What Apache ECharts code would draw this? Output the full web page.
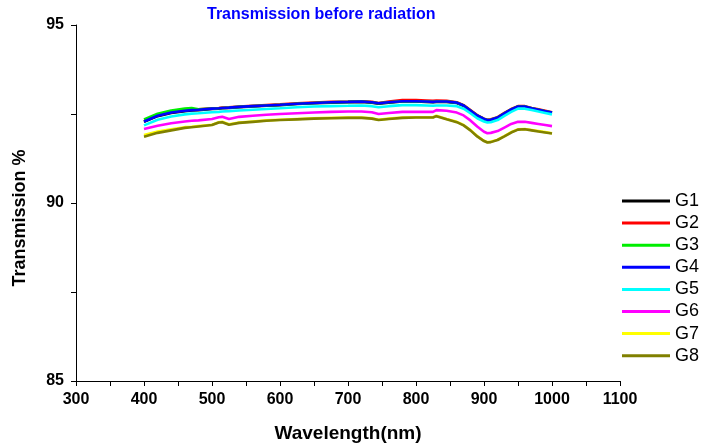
<!DOCTYPE html>
<html>
<head>
<meta charset="utf-8">
<script src="https://cdn.jsdelivr.net/npm/echarts@6/dist/echarts.min.js"></script>
<style>
  html, body { margin: 0; padding: 0; background: #fff; }
  #chart { width: 702px; height: 443px; }
</style>
</head>
<body>
<div id="chart"></div>
<script>
// Wavelength sample points (nm)
const wavelength = [400,420,440,460,470,480,500,510,515,525,540,560,580,600,625,650,675,700,720,735,745,760,780,800,815,825,830,845,860,870,880,890,900,905,910,920,930,940,950,960,970,980,990,1000];

// Transmission (%) for each glass sample
const g1 = [92.28,92.44,92.53,92.58,92.60,92.61,92.64,92.65,92.66,92.67,92.69,92.71,92.73,92.75,92.78,92.80,92.82,92.83,92.84,92.82,92.79,92.82,92.85,92.85,92.84,92.83,92.84,92.84,92.81,92.73,92.59,92.45,92.35,92.32,92.33,92.39,92.51,92.62,92.70,92.70,92.65,92.61,92.57,92.53];
const g2 = [92.30,92.46,92.55,92.60,92.62,92.63,92.66,92.67,92.68,92.69,92.71,92.73,92.75,92.77,92.80,92.82,92.84,92.85,92.86,92.84,92.81,92.85,92.89,92.89,92.88,92.87,92.88,92.87,92.83,92.75,92.61,92.47,92.37,92.34,92.35,92.41,92.53,92.64,92.72,92.72,92.67,92.63,92.59,92.55];
const g3 = [92.35,92.51,92.60,92.65,92.67,92.63,92.65,92.66,92.67,92.68,92.70,92.72,92.74,92.76,92.79,92.81,92.83,92.84,92.85,92.83,92.80,92.83,92.86,92.86,92.85,92.84,92.85,92.85,92.82,92.74,92.60,92.46,92.36,92.33,92.34,92.40,92.52,92.63,92.71,92.71,92.66,92.62,92.58,92.54];
const g4 = [92.29,92.45,92.54,92.59,92.61,92.62,92.65,92.66,92.67,92.68,92.70,92.72,92.74,92.76,92.79,92.81,92.83,92.84,92.85,92.83,92.80,92.83,92.86,92.86,92.85,92.84,92.85,92.85,92.82,92.74,92.60,92.46,92.36,92.33,92.34,92.40,92.52,92.63,92.71,92.71,92.66,92.62,92.58,92.54];
const g5 = [92.18,92.34,92.43,92.49,92.51,92.52,92.55,92.56,92.57,92.58,92.60,92.62,92.64,92.66,92.69,92.71,92.72,92.73,92.74,92.72,92.69,92.72,92.75,92.75,92.74,92.73,92.74,92.74,92.72,92.65,92.52,92.38,92.29,92.26,92.27,92.33,92.45,92.56,92.65,92.65,92.61,92.57,92.53,92.49];
const g6 = [92.08,92.17,92.24,92.29,92.31,92.32,92.36,92.41,92.42,92.36,92.42,92.45,92.48,92.50,92.52,92.54,92.56,92.57,92.57,92.55,92.50,92.53,92.56,92.56,92.56,92.56,92.61,92.59,92.54,92.46,92.32,92.15,92.00,91.96,91.97,92.02,92.12,92.22,92.28,92.28,92.25,92.22,92.19,92.16];
const g7 = [91.91,92.01,92.07,92.13,92.14,92.16,92.20,92.27,92.28,92.21,92.26,92.29,92.32,92.34,92.36,92.38,92.39,92.40,92.40,92.38,92.34,92.37,92.40,92.41,92.41,92.41,92.45,92.36,92.28,92.19,92.05,91.88,91.75,91.71,91.72,91.78,91.88,91.99,92.07,92.08,92.05,92.02,91.99,91.96];
const g8 = [91.86,91.97,92.04,92.11,92.13,92.15,92.19,92.26,92.27,92.20,92.25,92.28,92.31,92.33,92.35,92.37,92.38,92.39,92.39,92.37,92.33,92.36,92.39,92.40,92.40,92.40,92.44,92.35,92.27,92.18,92.04,91.87,91.74,91.70,91.71,91.77,91.87,91.98,92.06,92.07,92.04,92.01,91.98,91.95];

const seriesNames = ['G1','G2','G3','G4','G5','G6','G7','G8'];
const seriesValues = [g1, g2, g3, g4, g5, g6, g7, g8];
const seriesColors = ['#000000','#ff0000','#00ee00','#0000ff','#00ffff','#ff00ff','#ffff00','#808000'];

const FONT = "'Liberation Sans', Arial, sans-serif";

const chart = echarts.init(document.getElementById('chart'), null, { renderer: 'canvas' });

const series = seriesNames.map((name, i) => ({
  name: name,
  type: 'line',
  data: wavelength.map((w, k) => [w, seriesValues[i][k]]),
  symbol: 'none',
  smooth: false,
  lineStyle: { color: seriesColors[i], width: 2.6 },
  itemStyle: { color: seriesColors[i] },
  animation: false
}));

chart.setOption({
  backgroundColor: '#ffffff',
  animation: false,
  title: {
    text: 'Transmission before radiation',
    left: 202,
    top: 2,
    textStyle: { color: '#0000ff', fontFamily: FONT, fontWeight: 'bold', fontSize: 16 }
  },
  legend: {
    orient: 'vertical',
    left: 617,
    top: 187,
    icon: 'rect',
    itemWidth: 48,
    itemHeight: 3,
    itemGap: 4.1,
    textStyle: { color: '#000', fontFamily: FONT, fontSize: 18 },
    data: seriesNames
  },
  grid: { left: 76, right: 82, top: 25, bottom: 62, containLabel: false, outerBoundsMode: 'none' },
  xAxis: {
    type: 'value',
    min: 300,
    max: 1100,
    interval: 100,
    name: 'Wavelength(nm)',
    nameLocation: 'middle',
    nameGap: 43,
    nameTextStyle: { color: '#000', fontFamily: FONT, fontWeight: 'bold', fontSize: 19 },
    axisLine: { show: true, onZero: false, lineStyle: { color: '#000', width: 1 } },
    axisTick: { show: true, inside: false, length: 5, lineStyle: { color: '#000' } },
    minorTick: { show: true, splitNumber: 2, length: 5, lineStyle: { color: '#000' } },
    axisLabel: { color: '#000', fontFamily: FONT, fontWeight: 'bold', fontSize: 16, margin: 11, formatter: v => String(v) },
    splitLine: { show: false }
  },
  yAxis: {
    type: 'value',
    min: 85,
    max: 95,
    interval: 5,
    name: 'Transmission %',
    nameLocation: 'middle',
    nameGap: 47,
    nameTextStyle: { color: '#000', fontFamily: FONT, fontWeight: 'bold', fontSize: 18, padding: [0, 0, 0, -30] },
    axisLine: { show: true, onZero: false, lineStyle: { color: '#000', width: 1 } },
    axisTick: { show: true, inside: false, length: 5, lineStyle: { color: '#000' } },
    minorTick: { show: true, splitNumber: 2, length: 5, lineStyle: { color: '#000' } },
    axisLabel: { color: '#000', fontFamily: FONT, fontWeight: 'bold', fontSize: 16, margin: 12, formatter: v => String(v) },
    splitLine: { show: false }
  },
  series: series
});
</script>
</body>
</html>
